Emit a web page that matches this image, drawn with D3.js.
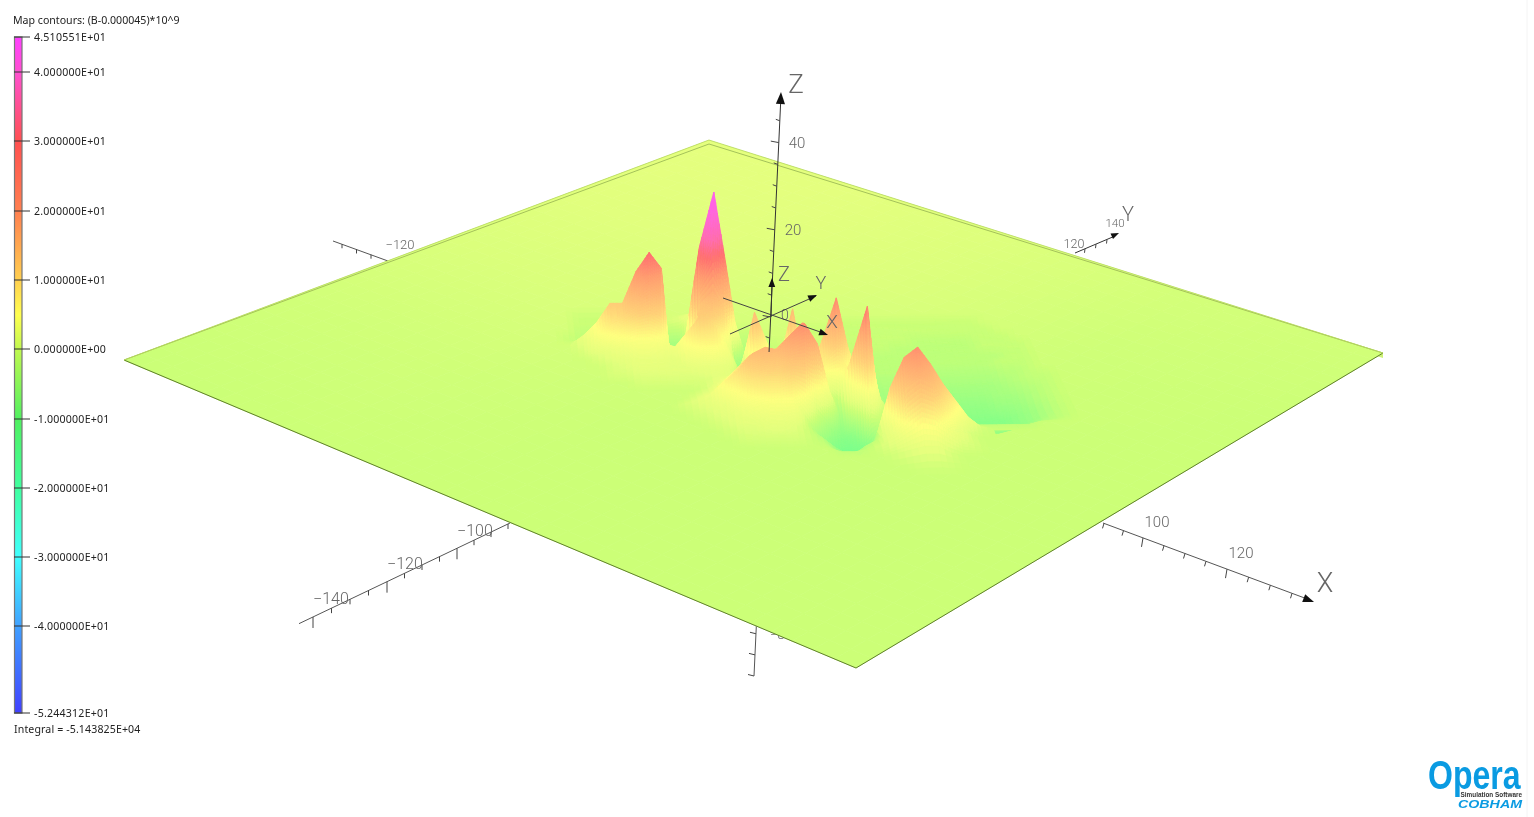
<!DOCTYPE html>
<html><head><meta charset="utf-8">
<style>html,body{margin:0;padding:0;background:#fff}svg{display:block;filter:blur(0.35px)}</style>
<script src="https://cdn.jsdelivr.net/npm/d3@7"></script>
</head><body><svg id="c" width="1534" height="817"></svg>
<script>
// ---------- legend data ----------
const legendTicks = [45.10551,40,30,20,10,0,-10,-20,-30,-40,-52.44312];
const legendLabels = ["4.510551E+01","4.000000E+01","3.000000E+01","2.000000E+01","1.000000E+01","0.000000E+00","-1.000000E+01","-2.000000E+01","-3.000000E+01","-4.000000E+01","-5.244312E+01"];
const barStops = [-52.44,-40,-30,-20,-10,0,5,10,20,30,40,45.11];
const barColors = ["#4040ff","#40a0ff","#40ffff","#40ffa0","#50f060","#c0f850","#ffff50","#ffd050","#ff8050","#ff5050","#ff50d0","#ff40ff"];
const surfStops = [-14,-10,-3,-1,4,10,20,26,31,38,45];
const surfColors = ["#70ff90","#88ff88","#ccff77","#e4ff7e","#ffff80","#ffd078","#ff9c70","#ff7070","#ff6eb0","#ff68d8","#ff60f0"];
// ---------- plate tint, rows by X (-1..1), columns by Y (-1..1), field value ----------
const plateRows = [
 [-3.2,-2.6,-1.8,-1.2,-0.8],
 [-3.0,-2.6,-1.8,-1.2,-1.0],
 [-3.0,-3.0,-2.6,-1.8,-1.6],
 [-3.0,-3.0,-3.0,-2.8,-2.4],
 [-3.0,-3.0,-3.0,-3.0,-2.6]];
// ---------- field values; rows run back to front, columns left to right ----------
const fieldRows = [
[-3,-3,-3,-3,-3,-3,-3,-3,-3,-3, -3,-3,-3,-3,-3,-3,-3,-3,-3,-3, -3,-3,-3,-3,-3,-3,-3,-3,-3,-3, -3,-3,-3,-3,-3,-3,-3,-3,-3,-3, -3],
[-3,-3,-4,-4,-4,-4,-4,-4,-3,-3, -3,-3,-3,-3,-3,-3,-3,-3,-3,-3, -3,-3,-3,-3,-3,-3,-3,-3,-3,-3, -3,-3,-3,-3,-3,-3,-3,-3,-3,-3, -3],
[-3,-3,-4,-4,-4,-3,-1,0,-1,-3, -2,0,2,0,-2,-3,-3,-3,-3,-3, -3,-3,-3,-4,-4,-4,-4,-4,-4,-4, -4,-4,-4,-4,-4,-3,-3,-3,-3,-3, -3],
[-3,-3,-5,-5,-4,-2,2,5,3,-7, -7,2,8,3,-3,-4,-3,-3,-3,-3, -4,-4,-4,-4,-4,-4,-4,-4,-4,-4, -4,-4,-4,-4,-4,-4,-3,-3,-3,-3, -3],
[-3,-4,-5,-4,-1,3,10,14,10,-10, -10,12,22,10,-4,-6,-5,-3,-3,-3, -3,-3,-4,-4,-4,-4,-4,-4,-4,-5, -5,-5,-5,-5,-4,-4,-4,-3,-3,-3, -3],
[-3,-3,0,4,10,10,20,26,21,-11, -4,28,45,25,4,-8,-6,-4,-3,-3, -3,-4,-4,-4,-4,-4,-4,-5,-5,-5, -5,-5,-5,-5,-4,-4,-4,-4,-3,-3, -3],
[-3,-3,-2,3,7,9,12,14,11,-8, -8,12,16,10,-10,-10,-7,-5,-4,-3, -3,-3,-4,-4,-4,-5,-5,-5,-5,-5, -5,-5,-5,-5,-5,-5,-4,-4,-3,-3, -3],
[-3,-3,-3,-2,0,2,3,3,2,1, 6,11,8,2,-6,0,-2,-6,2,-6, -4,-2,-3,-4,-5,-5,-5,-5,-5,-5, -5,-5,-5,-5,-5,-4,-4,-4,-3,-3, -3],
[-3,-3,-3,-3,-2,-1,0,0,0,-1, 3,5,5,2,-5,14,5,-3,15,-2, -3,0,-2,-6,-6,-5,-5,-5,-5,-6, -6,-6,-6,-6,-6,-5,-5,-4,-3,-3, -3],
[-3,-3,-3,-3,-2,-2,-1,-1,-1,-1, -1,0,0,-1,-4,6,2,0,4,-3, 3,6,3,-6,-7,-6,-6,-6,-6,-7, -7,-7,-7,-7,-7,-6,-5,-4,-4,-3, -3],
[-3,-3,-3,-3,-3,-3,-2,-2,-2,-2, -2,-2,-1,-1,-3,-2,0,2,3,-2, 10,23,8,-3,-8,-7,-7,-7,-7,-8, -8,-8,-8,-8,-7,-7,-6,-5,-4,-3, -3],
[-3,-3,-3,-3,-3,-3,-3,-3,-3,-3, -3,-2,0,2,7,8,9,12,15,6, 6,10,2,12,-3,-8,-8,-8,-8,-8, -9,-9,-9,-9,-8,-8,-7,-5,-4,-3, -3],
[-3,-3,-3,-3,-3,-3,-3,-3,-3,-3, -2,-1,2,6,10,12,12,16,20,10, 0,-5,11,25,-4,-9,-9,-9,-9,-10, -10,-10,-10,-10,-10,-9,-8,-6,-4,-3, -3],
[-3,-3,-3,-3,-3,-3,-3,-3,-3,-2, -1,1,5,8,13,15,14,19,22,16, 2,-8,3,12,-1,-6,-5,-7,-9,-10, -11,-11,-11,-11,-10,-9,-8,-6,-4,-3, -3],
[-3,-3,-3,-3,-3,-3,-3,-3,-3,-3, -2,-1,1,4,7,8,8,10,9,-3, -7,-10,-9,3,-4,3,5,4,1,-6, -8,-9,-9,-9,-8,-7,-6,-5,-4,-3, -3],
[-3,-3,-3,-3,-3,-3,-3,-3,-3,-3, -3,-2,-1,1,2,3,3,3,-3,-7, -10,-13,-13,-9,-3,12,15,12,7,2, -3,-4,-4,-4,-4,-4,-3,-3,-3,-3, -3],
[-3,-3,-3,-3,-3,-3,-3,-3,-3,-3, -3,-3,-2,-1,-1,0,0,-1,-3,-5, -8,-10,-9,-6,10,19,22,17,11,6, 1,-2,-3,-3,-3,-3,-3,-3,-3,-3, -3],
[-3,-3,-3,-3,-3,-3,-3,-3,-3,-3, -3,-3,-3,-2,-2,-2,-2,-2,-3,-4, -7,-8,-5,-3,2,12,15,13,7,2, -2,-3,-3,-3,-3,-3,-3,-3,-3,-3, -3],
[-3,-3,-3,-3,-3,-3,-3,-3,-3,-3, -3,-3,-3,-3,-3,-3,-3,-3,-3,-3, -4,-4,-3.5,-2,0,3,6,5,2,-1, -2,-3,-3,-3,-3,-3,-3,-3,-3,-3, -3],
[-3,-3,-3,-3,-3,-3,-3,-3,-3,-3, -3,-3,-3,-3,-3,-3,-3,-3,-3,-3, -3,-3,-3,-3,-2,-1,0,0,-2,-3, -3,-3,-3,-3,-3,-3,-3,-3,-3,-3, -3],
[-3,-3,-3,-3,-3,-3,-3,-3,-3,-3, -3,-3,-3,-3,-3,-3,-3,-3,-3,-3, -3,-3,-3,-3,-3,-2.5,-2,-2,-2.5,-3, -3,-3,-3,-3,-3,-3,-3,-3,-3,-3, -3],
[-3,-3,-3,-3,-3,-3,-3,-3,-3,-3, -3,-3,-3,-3,-3,-3,-3,-3,-3,-3, -3,-3,-3,-3,-3,-3,-3,-3,-3,-3, -3,-3,-3,-3,-3,-3,-3,-3,-3,-3, -3]];
// ---------- axis ticks ----------
const xTicksNear = [90,95,100,105,110,115,120,125,130,135];
const xTicksFar = [-130,-125,-120];
const yTicksNear = [-140,-135,-130,-125,-120,-115,-110,-105,-100,-95,-90,-85];
const yTicksFar = [120,125,130];
const zTicks = [-85,-80,-75,-20,-15,-10,-5,0,5,10,15,20,25,30,35,40,45];
const majorTicks = [100,120,-140,-100,-120,20,40,0];

// ---------- scales ----------
const legendY = d3.scaleLinear().domain([-52.44312,-40,-30,-20,-10,0,10,20,30,40,45.10551]).range([713,626,557,488,419,349,280,211,141,72,37]);
const barColor = d3.scaleLinear().domain(barStops).range(barColors).clamp(true);
const surfColor = d3.scaleLinear().domain(surfStops).range(surfColors).clamp(true);
const colS = d3.scaleLinear().domain([0,40]).range([-0.33,0.47]);
const rowT = d3.scaleLinear().domain([0,21]).range([-0.20,0.43]);
const heightPx = d3.scaleLinear().domain([-3,45]).range([0,153]);
const zAxisY = d3.scaleLinear().domain([-85,0,50]).range([676,317,99]);
const zAxisX = d3.scaleLinear().domain([676,95]).range([754,781]);
const xNearX = d3.scaleLinear().domain([90,100,120,135]).range([1104,1143,1227,1292]);
const yNearX = d3.scaleLinear().domain([-140,-120,-100,-85]).range([313,387,457,508]);
const xFarX = d3.scaleLinear().domain([-130,-120]).range([342,371]);
const yFarX = d3.scaleLinear().domain([120,130]).range([1085,1107]);

// ---------- plate projection ----------
const plate = {left:[124,360],top:[709,140],right:[1383,353],bottom:[856,668],cx:769,cy:356.5};
const bT = -0.181, cS = 0.0246;
const d1 = [(plate.bottom[0]-plate.cx)*(1+bT),(plate.bottom[1]-plate.cy)*(1+bT)];
const d2 = [(plate.right[0]-plate.cx)*(1+cS),(plate.right[1]-plate.cy)*(1+cS)];
const lean = 0.03;
function project(s,t,h){
  const w = 1+cS*s+bT*t, hh = h/w;
  return [plate.cx+(s*d2[0]+t*d1[0])/w+lean*hh, plate.cy+(s*d2[1]+t*d1[1])/w-hh];
}
function plateValue(nx,ny){
  const a=(nx+1)*2,b=(ny+1)*2,i=Math.min(3,Math.floor(a)),j=Math.min(3,Math.floor(b)),u=a-i,v=b-j;
  return (1-u)*((1-v)*plateRows[i][j]+v*plateRows[i][j+1])+u*((1-v)*plateRows[i+1][j]+v*plateRows[i+1][j+1]);
}
const poly = pts => "M"+pts.map(p=>p[0].toFixed(1)+","+p[1].toFixed(1)).join("L")+"Z";

const svg = d3.select("#c");
const defs = svg.append("defs");
defs.append("filter").attr("id","soft").attr("filterUnits","userSpaceOnUse").attr("x",0).attr("y",0).attr("width",1534).attr("height",817)
  .append("feGaussianBlur").attr("stdDeviation",0.7);

const FONT = "'Noto Sans',sans-serif", AX = "Roboto,'Liberation Sans',sans-serif";
const line = d3.line();
function seg(g,p,q,c,wd){g.append("path").attr("d",line([p,q])).attr("stroke",c||"#444").attr("stroke-width",wd||1).attr("fill","none");}
function arrow(g,tip,from,size){
  const dx=tip[0]-from[0],dy=tip[1]-from[1],l=Math.hypot(dx,dy),ux=dx/l,uy=dy/l;
  g.append("path").attr("d",poly([tip,[tip[0]-ux*size-uy*size*.38,tip[1]-uy*size+ux*size*.38],[tip[0]-ux*size+uy*size*.38,tip[1]-uy*size-ux*size*.38]])).attr("fill","#111");
}
function label(g,txt,x,y,size,c){g.append("text").attr("x",x).attr("y",y).attr("text-anchor","middle").attr("font-family",AX).attr("font-weight",300).attr("font-size",size).attr("fill",c||"#666").text(txt);}

// ---------- legend ----------
const lg = svg.append("g");
lg.append("text").attr("x",13).attr("y",24).attr("font-family",FONT).attr("font-size",10.6).attr("fill","#222").text("Map contours: (B-0.000045)*10^9");
lg.selectAll("rect.b").data(d3.range(37,713)).join("rect").attr("class","b").attr("x",15).attr("y",d=>d).attr("width",7).attr("height",1.2)
  .attr("fill",d=>barColor(legendY.invert(d)));
lg.append("rect").attr("x",14.5).attr("y",37).attr("width",7.5).attr("height",676).attr("fill","none").attr("stroke","#777").attr("stroke-width",1.2);
lg.selectAll("line").data(legendTicks).join("line").attr("x1",14).attr("x2",30).attr("y1",d=>legendY(d)).attr("y2",d=>legendY(d)).attr("stroke","#333").attr("stroke-width",1);
lg.selectAll("text.l").data(legendTicks).join("text").attr("class","l").attr("x",34).attr("y",d=>legendY(d)+4)
  .attr("font-family",FONT).attr("font-size",10.6).attr("letter-spacing",0.22).attr("fill","#222").text((d,i)=>legendLabels[i]);
lg.append("text").attr("x",14).attr("y",733).attr("font-family",FONT).attr("font-size",10.6).attr("letter-spacing",0.12).attr("fill","#222").text("Integral = -5.143825E+04");

// ---------- axes that lie under the plate ----------
const under = svg.append("g");
const xNearLine = x => 523+(x-1103)*0.372, yNearLine = x => 523-(x-510)*0.477;
seg(under,[1103,xNearLine(1103)],[1310,xNearLine(1310)],"#555");
arrow(under,[1314,602],[1103,523],11);
xTicksNear.forEach(v=>{const x=xNearX(v),y=xNearLine(x),m=majorTicks.includes(v);seg(under,[x,y],[x-1.5,y+(m?9:5)],"#444");});
label(under,"100",1157,527,15); label(under,"120",1241,558,15); label(under,"X",1325,592,27);
seg(under,[299,yNearLine(299)],[510,yNearLine(510)],"#555");
yTicksNear.forEach(v=>{const x=yNearX(v),y=yNearLine(x),m=majorTicks.includes(v);seg(under,[x,y],[x,y+(m?11:5)],"#444");});
label(under,"−100",475,536,16); label(under,"−120",405,569,16); label(under,"−140",331,604,16);
seg(under,[333,241],[388,261],"#555");
xTicksFar.forEach(v=>{const x=xFarX(v),y=241+(x-333)*0.36;seg(under,[x,y],[x,y+4],"#444");});
label(under,"−120",400,249,13);
seg(under,[1075,253],[1115,236],"#333");
yTicksFar.forEach(v=>{const x=yFarX(v),y=253-(x-1075)*0.42;seg(under,[x,y],[x-0.5,y+4],"#444");});
arrow(under,[1119,233],[1075,253],8);
label(under,"120",1074,248,12.5); label(under,"140",1115,227,11.5); label(under,"Y",1128,221,20);
label(under,"−80",781,639,13);
seg(under,[754,676],[zAxisX(620),620],"#555");
zTicks.filter(z=>z<-70).forEach(z=>{const y=zAxisY(z),x=zAxisX(y);seg(under,[x,y],[x-6,y-1.5],"#444");});

// ---------- plate ----------
const band = svg.append("g");
band.append("path").attr("d",poly([plate.left,plate.top,plate.right,[plate.right[0],plate.right[1]+5],[plate.top[0],plate.top[1]+5],[plate.left[0],plate.left[1]+1]])).attr("fill","#cdf277");
const plateN = d3.range(40);
const plateCell = [];
plateN.forEach(i=>plateN.forEach(j=>{
  const nx=a=>-1+a/20, q=[[i,j],[i+1,j],[i+1,j+1],[i,j+1]].map(([a,b])=>{const X=nx(a),Y=nx(b);return project((X+Y)/2,(X-Y)/2,0);});
  plateCell.push({d:poly(q),z:plateValue(nx(i+.5),nx(j+.5))});
}));
const plateG = svg.append("g");
plateG.selectAll("path").data(plateCell).join("path").attr("d",d=>d.d).attr("fill",d=>surfColor(d.z)).attr("stroke",d=>surfColor(d.z)).attr("stroke-width",0.7);
// plate rim lines
const rim = svg.append("g").attr("fill","none");
rim.append("path").attr("d",line([plate.left,plate.bottom,plate.right])).attr("stroke","#5f7f2c").attr("stroke-width",1);
rim.append("path").attr("d",line([plate.left,[plate.top[0],plate.top[1]+4],[plate.right[0],plate.right[1]]])).attr("stroke","#a4c25a").attr("stroke-width",1);
rim.append("path").attr("d",line([plate.left,plate.top,plate.right])).attr("stroke","#b8d862").attr("stroke-width",0.8);

// ---------- displaced surface ----------
function fieldAt(r,c){ // r,c fractional indices
  const i=Math.min(fieldRows.length-2,Math.floor(r)),j=Math.min(39,Math.floor(c)),u=r-i,v=c-j;
  return (1-u)*((1-v)*fieldRows[i][j]+v*fieldRows[i][j+1])+u*((1-v)*fieldRows[i+1][j]+v*fieldRows[i+1][j+1]);
}
const cells=[];
for(let i=0;i<fieldRows.length-1;i++){
  const rowCells=[];
  let maxSub=2;
  for(let j=0;j<40;j++){
    const vs=[fieldRows[i][j],fieldRows[i][j+1],fieldRows[i+1][j],fieldRows[i+1][j+1]];
    if(vs.every(v=>v===-3)) {rowCells.push(null);continue;}
    const n=Math.max(2,Math.min(14,Math.ceil((d3.max(vs)-d3.min(vs))/1.6)));
    rowCells.push(n); maxSub=Math.max(maxSub,n);
  }
  for(let k=0;k<maxSub;k++){
    const a=k/maxSub,b=(k+1)/maxSub;
    for(let j=0;j<40;j++){
      const n=rowCells[j]; if(!n) continue;
      const m=Math.min(n,6);
      for(let l=0;l<m;l++){
        const c0=j+l/m,c1=j+(l+1)/m;
        const pt=(r,c)=>{const f=fieldAt(r,c);return project(colS(c),rowT(r),heightPx(f));};
        const r0=i+a,r1=i+b,rm=(r0+r1)/2,cm=(c0+c1)/2;
        const f=fieldAt(rm,cm);
        const s=colS(cm),t=rowT(rm);
        const nx=s+t,ny=s-t;
        const tint=plateValue(Math.max(-1,Math.min(1,nx)),Math.max(-1,Math.min(1,ny)));
        cells.push({d:poly([pt(r0,c0),pt(r0,c1),pt(r1,c1),pt(r1,c0)]),z:f+tint+3});
      }
    }
  }
}
const surfG = svg.append("g").attr("filter","url(#soft)");
surfG.selectAll("path").data(cells).join("path").attr("d",d=>d.d).attr("fill",d=>surfColor(d.z)).attr("stroke",d=>surfColor(d.z)).attr("stroke-width",0.6);

// ---------- axes drawn over the plate ----------
const over = svg.append("g");
seg(over,[zAxisX(352),352],[zAxisX(102),102],"#333",1);
arrow(over,[781,92],[769,352],12);
zTicks.filter(z=>z>=-5).forEach(z=>{const y=zAxisY(z),x=zAxisX(y);seg(over,[x,y],[x-(z%20==0?8:4),y-1.5],"#444");});
label(over,"40",797,148,15); label(over,"20",793,235,15); label(over,"0",785,320,14); label(over,"Z",796,93,26);
// small triad at the origin
const triadO=[771,317];
seg(over,[723,298],[826,334],"#444"); arrow(over,[828,335],[723,298],9);
seg(over,[730,334],[816,296],"#444"); arrow(over,[817,295],[730,334],9);
seg(over,triadO,[772,280],"#333"); arrow(over,[772,278],[771,317],9);
label(over,"Z",784,281,20); label(over,"Y",821,289,18); label(over,"X",832,328,19);

// ---------- logo ----------
const logo = svg.append("g");
logo.append("text").attr("transform","translate(1428,789) scale(0.8,1)").attr("font-family","Liberation Sans,sans-serif").attr("font-weight",700).attr("font-size",40).attr("fill","#0a9be2").text("Opera");
logo.append("text").attr("x",1522).attr("y",797).attr("text-anchor","end").attr("font-family","Liberation Sans,sans-serif").attr("font-weight",700).attr("font-size",6.4).attr("fill","#333").text("Simulation Software");
logo.append("text").attr("x",1458).attr("y",808).attr("textLength",64).attr("lengthAdjust","spacingAndGlyphs").attr("font-family","Liberation Sans,sans-serif").attr("font-weight",700).attr("font-style","italic").attr("font-size",10).attr("fill","#0a9be2").text("COBHAM");
seg(svg,[1527,0],[1527,817],"#f4f4f4");
</script></body></html>
